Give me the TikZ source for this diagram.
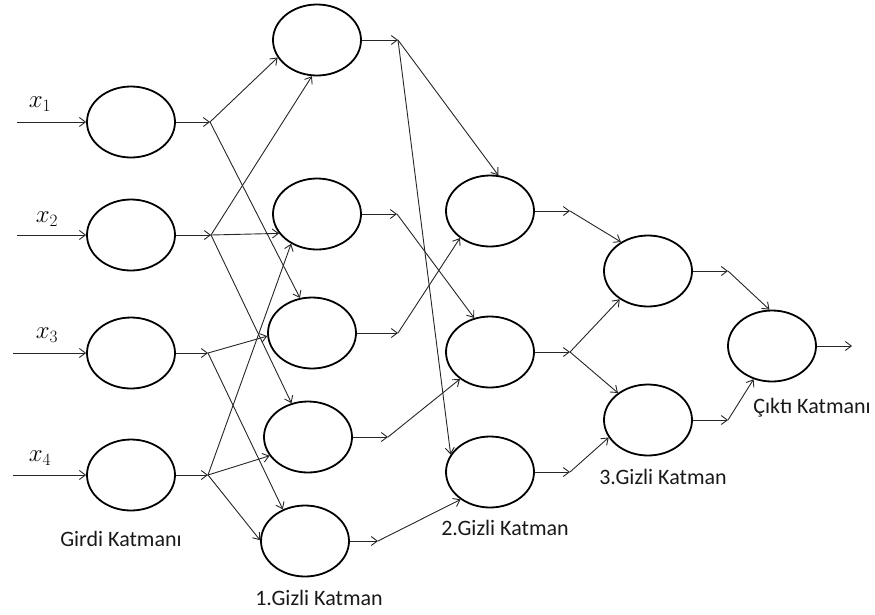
\documentclass[tikz,border=0pt]{standalone}
\usepackage{fontspec}
\setmainfont{Carlito}
\usetikzlibrary{shapes.geometric,arrows.meta}
\begin{document}
\begin{tikzpicture}[x=1pt,y=-1pt,
  neuron/.style={draw=black,line width=1.8pt,ellipse,minimum width=88pt,minimum height=71pt,inner sep=0pt},
  arr/.style={draw=black!85,line width=0.9pt,-{Straight Barb[length=6pt,width=9pt]}},
  lbl/.style={font=\fontsize{22}{26}\selectfont,inner sep=0pt,text=black!90},
  mlbl/.style={font=\fontsize{24}{28}\selectfont,inner sep=0pt}]
\useasboundingbox (0,0) rectangle (875,614);
% input layer
\node[neuron] (I1) at (131,122) {};
\node[neuron] (I2) at (131,235) {};
\node[neuron] (I3) at (131,353) {};
\node[neuron] (I4) at (131,475) {};
% hidden 1
\node[neuron] (H1a) at (317,40) {};
\node[neuron] (H1b) at (317,214) {};
\node[neuron] (H1c) at (312,333) {};
\node[neuron] (H1d) at (308,437) {};
\node[neuron] (H1e) at (305,541) {};
% hidden 2
\node[neuron] (H2a) at (490,211) {};
\node[neuron] (H2b) at (490,352) {};
\node[neuron] (H2c) at (490,472) {};
% hidden 3
\node[neuron] (H3a) at (648,271) {};
\node[neuron] (H3b) at (648,420) {};
% output
\node[neuron] (O) at (772,346) {};

% inputs
\coordinate (s1) at (17,122);
\coordinate (s2) at (17,235);
\coordinate (s3) at (13,353);
\coordinate (s4) at (13,475);
\draw[arr] (s1) -- (I1);
\draw[arr] (s2) -- (I2);
\draw[arr] (s3) -- (I3);
\draw[arr] (s4) -- (I4);
\node[mlbl] (x1) at (40,104) {$x_1$};
\node[mlbl] (x2) at (47,219) {$x_2$};
\node[mlbl] (x3) at (47,335) {$x_3$};
\node[mlbl] (x4) at (40,458) {$x_4$};

% junctions
\coordinate (J1) at (210,122);
\coordinate (J2) at (211,235);
\coordinate (J3) at (208,353);
\coordinate (J4) at (208,475);
\coordinate (Ja) at (398,40);
\coordinate (Jb) at (397,214);
\coordinate (Jc) at (398,333);
\coordinate (Jd) at (388,437);
\coordinate (Je) at (378,541);
\coordinate (K1) at (570,211);
\coordinate (K2) at (570,352);
\coordinate (K3) at (570,472);
\coordinate (L1) at (728,271);
\coordinate (L2) at (728,420);
\coordinate (Oend) at (852,346);

% stubs
\draw[arr] (I1) -- (J1);
\draw[arr] (I2) -- (J2);
\draw[arr] (I3) -- (J3);
\draw[arr] (I4) -- (J4);
\draw[arr] (H1a) -- (Ja);
\draw[arr] (H1b) -- (Jb);
\draw[arr] (H1c) -- (Jc);
\draw[arr] (H1d) -- (Jd);
\draw[arr] (H1e) -- (Je);
\draw[arr] (H2a) -- (K1);
\draw[arr] (H2b) -- (K2);
\draw[arr] (H2c) -- (K3);
\draw[arr] (H3a) -- (L1);
\draw[arr] (H3b) -- (L2);
\draw[arr] (O) -- (Oend);

% input -> hidden 1
\draw[arr] (J1) -- (H1a.204);
\draw[arr] (J1) -- (H1c.109);
\draw[arr] (J2) -- (H1a.262);
\draw[arr] (J2) -- (H1b.207);
\draw[arr] (J2) -- (H1d.116);
\draw[arr] (J3) -- (H1c.184);
\draw[arr] (J3) -- (H1e.125);
\draw[arr] (J4) -- (H1b.229);
\draw[arr] (J4) -- (H1d.206);
\draw[arr] (J4) -- (H1e.179);

% hidden 1 -> hidden 2
\draw[arr] (Ja) -- (H2a.77);
\draw[arr] (Ja) -- (H2c.156);
\draw[arr] (Jb) -- (H2b.115);
\draw[arr] (Jc) -- (H2a.222);
\draw[arr] (Jd) -- (H2b.222);
\draw[arr] (Je) -- (H2c.223);

% hidden 2 -> hidden 3
\draw[arr] (K1) -- (H3a.133);
\draw[arr] (K2) -- (H3a.225);
\draw[arr] (K2) -- (H3b.138);
\draw[arr] (K3) -- (H3b.204);

% hidden 3 -> output
\draw[arr] (L1) -- (O.94);
\draw[arr] (L2) -- (O.241);

% labels
\node[lbl] (t0) at (121,539) {Girdi Katmanı};
\node[lbl] (t1) at (319,598) {1.Gizli Katman};
\node[lbl] (t2) at (505,528) {2.Gizli Katman};
\node[lbl] (t3) at (663,477) {3.Gizli Katman};
\node[lbl] (t4) at (812,408) {Çıktı Katmanı};
\end{tikzpicture}
\end{document}
